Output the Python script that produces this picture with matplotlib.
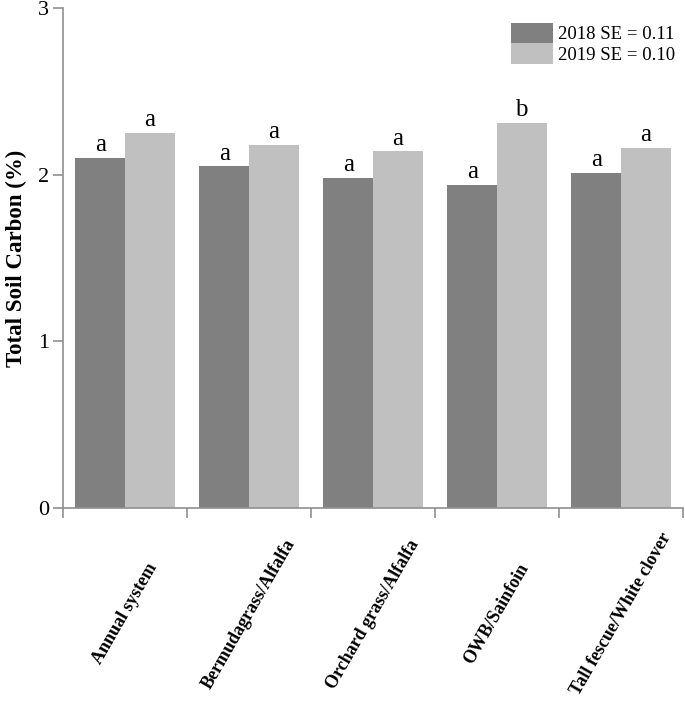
import numpy as np
import matplotlib
matplotlib.use("Agg")
import matplotlib.pyplot as plt

plt.rcParams['font.family'] = ['Liberation Serif', 'DejaVu Serif']

# data
systems = ["Annual system", "Bermudagrass/Alfalfa", "Orchard grass/Alfalfa",
           "OWB/Sainfoin", "Tall fescue/White clover"]
carbon_2018 = [2.10, 2.05, 1.98, 1.94, 2.01]
carbon_2019 = [2.25, 2.18, 2.14, 2.31, 2.16]
letters_2018 = ["a", "a", "a", "a", "a"]
letters_2019 = ["a", "a", "a", "b", "a"]
series_labels = ["2018 SE = 0.11", "2019 SE = 0.10"]

fig = plt.figure(figsize=(6.85, 7.01), dpi=100)
ax = fig.add_axes([0.092, 0.2753, 0.905, 0.7133])

x = np.arange(len(systems))
w = 0.4
ax.bar(x - w / 2, carbon_2018, w, color='#808080', label=series_labels[0])
ax.bar(x + w / 2, carbon_2019, w, color='#c0c0c0', label=series_labels[1])

# significance letters above the bars
for xi, v, t in zip(x - w / 2, carbon_2018, letters_2018):
    ax.text(xi, v + 0.01, t, ha='center', va='bottom', fontsize=18)
for xi, v, t in zip(x + w / 2, carbon_2019, letters_2019):
    ax.text(xi, v + 0.01, t, ha='center', va='bottom', fontsize=18)

ax.set_xlim(-0.5, len(systems) - 0.5)
ax.set_ylim(0, 3)
ax.set_yticks([0, 1, 2, 3])
ax.tick_params(axis='y', labelsize=16, color='#909090', length=7, width=1.2, pad=3)

# ticks between the categories, labels centred under each group
ax.set_xticks(np.arange(len(systems) + 1) - 0.5)
ax.set_xticklabels([])
ax.tick_params(axis='x', color='#909090', length=7, width=1.2)
for xi, name in zip(x, systems):
    ax.text(xi, -0.212, name, transform=ax.get_xaxis_transform(),
            rotation=60, ha='center', va='center', rotation_mode='anchor',
            fontsize=13, fontweight='bold')

for s in ['top', 'right']:
    ax.spines[s].set_visible(False)
for s in ['left', 'bottom']:
    ax.spines[s].set_color('#909090')
    ax.spines[s].set_linewidth(1.2)

ax.set_ylabel("Total Soil Carbon (%)", fontsize=16.5, fontweight='bold', labelpad=8)

ax.legend(loc='upper right', frameon=False, fontsize=13.5, handlelength=2.25,
          handleheight=1.3, handletextpad=0.3, labelspacing=0.0,
          borderaxespad=0.0, bbox_to_anchor=(1.0, 0.985))

fig.savefig("out.png", dpi=100)
